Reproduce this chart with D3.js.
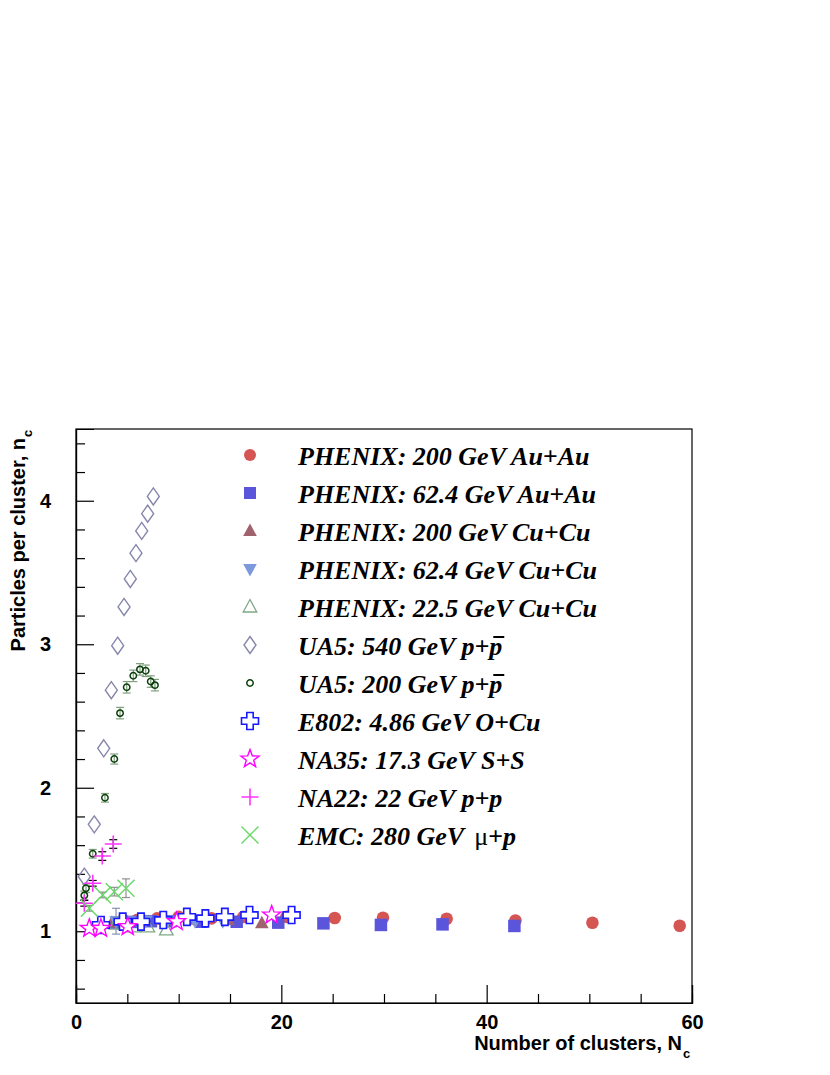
<!DOCTYPE html>
<html><head><meta charset="utf-8">
<script src="https://cdn.jsdelivr.net/npm/d3@7"></script>
<style>body{margin:0;background:#fff}</style>
</head><body>
<svg id="c" width="830" height="1075"></svg>
<script>
// ---------------- data ----------------
const xTicks = [0, 20, 40, 60];
const yTicks = [1, 2, 3, 4];
const xMinor = [5, 10, 15, 25, 30, 35, 45, 50, 55];
const yMinor = [0.6, 0.8, 1.2, 1.4, 1.6, 1.8, 2.2, 2.4, 2.6, 2.8, 3.2, 3.4, 3.6, 3.8, 4.2, 4.4];

const au200_x = [4.4, 6.0, 7.9, 10.0, 13.2, 16.3, 20.5, 25.2, 29.9, 36.1, 42.8, 50.3, 58.8];
const au200_y = [1.07, 1.08, 1.09, 1.10, 1.09, 1.10, 1.10, 1.092, 1.094, 1.087, 1.075, 1.059, 1.038];

const au62_x = [4.0, 5.4, 7.3, 9.2, 12.2, 15.65, 19.7, 24.1, 29.7, 35.7, 42.7];
const au62_y = [1.06, 1.065, 1.07, 1.07, 1.066, 1.066, 1.06, 1.055, 1.044, 1.048, 1.037];

const cu200_x = [3.5, 4.9, 6.6, 8.6, 11.2, 14.8, 18.1];
const cu200_y = [1.06, 1.07, 1.08, 1.08, 1.08, 1.078, 1.055];

const cu62_x = [3.9, 5.2, 6.8, 8.9, 11.6, 14.3];
const cu62_y = [1.07, 1.07, 1.075, 1.075, 1.07, 1.07];
const cu62_err = [0.09, 0, 0, 0, 0, 0];

const cu22_x = [3.9, 5.6, 7.0, 8.8];
const cu22_y = [1.05, 1.03, 1.03, 1.01];

const ua540_x = [0.81, 1.78, 2.70, 3.44, 4.06, 4.68, 5.29, 5.84, 6.40, 6.98, 7.53];
const ua540_y = [1.38, 1.745, 2.275, 2.68, 2.99, 3.26, 3.455, 3.635, 3.79, 3.91, 4.03];

const ua200_x = [0.81, 0.97, 1.63, 2.82, 3.73, 4.29, 4.94, 5.58, 6.23, 6.79, 7.28, 7.69];
const ua200_y = [1.25, 1.30, 1.54, 1.93, 2.20, 2.52, 2.70, 2.78, 2.825, 2.815, 2.74, 2.715];
const ua200_err = [0.03, 0.03, 0.03, 0.03, 0.035, 0.04, 0.04, 0.04, 0.04, 0.04, 0.04, 0.04];

const e802_x = [2.43, 4.55, 6.33, 8.5, 10.8, 12.6, 14.5, 16.9, 21.0];
const e802_y = [1.044, 1.067, 1.067, 1.078, 1.10, 1.09, 1.10, 1.113, 1.113];

const na35_x = [1.3, 2.43, 5.04, 9.8, 19.06];
const na35_y = [1.02, 1.02, 1.032, 1.067, 1.113];

const na22_x = [0.81, 1.63, 2.56, 3.63];
const na22_y = [1.195, 1.334, 1.524, 1.608];
const na22_err = [0.02, 0.02, 0.03, 0.03];

const emc_x = [1.3, 2.6, 3.73, 4.87];
const emc_y = [1.16, 1.253, 1.276, 1.30];
const emc_err = [0.02, 0.02, 0.03, 0.065];

const legendLabels = [
  "PHENIX: 200 GeV Au+Au",
  "PHENIX: 62.4 GeV Au+Au",
  "PHENIX: 200 GeV Cu+Cu",
  "PHENIX: 62.4 GeV Cu+Cu",
  "PHENIX: 22.5 GeV Cu+Cu",
  "UA5: 540 GeV p+p",
  "UA5: 200 GeV p+p",
  "E802: 4.86 GeV O+Cu",
  "NA35: 17.3 GeV S+S",
  "NA22: 22 GeV p+p",
  "EMC: 280 GeV "
];

// ---------------- setup ----------------
const svg = d3.select("#c");
const L = 76, R = 692, T = 429, B = 1003;
const x = d3.scaleLinear().domain([0, 60]).range([L, R]);
const y = d3.scaleLinear().domain([0.5, 4.5]).range([B, T]);

// marker paths
const mk = {
  circle: r => `M${r},0A${r},${r} 0 1,1 ${-r},0A${r},${r} 0 1,1 ${r},0Z`,
  square: s => `M${-s/2},${-s/2}H${s/2}V${s/2}H${-s/2}Z`,
  triUp: () => "M0,-7.5L6.8,5L-6.8,5Z",
  triDown: () => "M0,7.5L6.8,-5L-6.8,-5Z",
  diamond: () => "M0,-8.5L6,0L0,8.5L-6,0Z",
  cross: () => { const a = 3.2, l = 8.5; return `M${-a},${-l}H${a}V${-a}H${l}V${a}H${a}V${l}H${-a}V${a}H${-l}V${-a}H${-a}Z`; },
  star: () => { const Ro = 9.5, Ri = 3.9; let p = ""; for (let i = 0; i < 10; i++) { const r = i % 2 ? Ri : Ro; const a = -Math.PI/2 + i*Math.PI/5; p += (i ? "L" : "M") + (r*Math.cos(a)).toFixed(2) + "," + (r*Math.sin(a)).toFixed(2); } return p + "Z"; },
  plus: () => "M-8.5,0H8.5M0,-8.5V8.5",
  xmark: () => "M-8.5,-8.5L8.5,8.5M-8.5,8.5L8.5,-8.5"
};

const styles = [
  {d: mk.circle(6.3), fill: "#d55552", stroke: "none"},
  {d: mk.square(12.5), fill: "#5b55dc", stroke: "none"},
  {d: mk.triUp(), fill: "#a0626c", stroke: "none"},
  {d: mk.triDown(), fill: "#7e98dc", stroke: "none"},
  {d: mk.triUp(), fill: "none", stroke: "#80a888", sw: 1.3},
  {d: mk.diamond(), fill: "none", stroke: "#8686ac", sw: 1.4},
  {d: mk.circle(3.2), fill: "none", stroke: "#0a3f0a", sw: 1.5},
  {d: mk.cross(), fill: "#fff", stroke: "#1a1aff", sw: 1.6},
  {d: mk.star(), fill: "#fff", stroke: "#ff00ff", sw: 1.4},
  {d: mk.plus(), fill: "none", stroke: "#ff33ff", sw: 1.6},
  {d: mk.xmark(), fill: "none", stroke: "#66d866", sw: 1.4}
];

const series = [
  {xs: au200_x, ys: au200_y},
  {xs: au62_x, ys: au62_y},
  {xs: cu200_x, ys: cu200_y},
  {xs: cu62_x, ys: cu62_y, err: cu62_err, ec: "#8890b0"},
  {xs: cu22_x, ys: cu22_y},
  {xs: ua540_x, ys: ua540_y},
  {xs: ua200_x, ys: ua200_y, err: ua200_err, ec: "#7f9f7f"},
  {xs: e802_x, ys: e802_y},
  {xs: na35_x, ys: na35_y},
  {xs: na22_x, ys: na22_y, err: na22_err, ec: "#000"},
  {xs: emc_x, ys: emc_y, err: emc_err, ec: "#909090"}
];

// ---------------- frame & axes ----------------
svg.append("rect").attr("x", L).attr("y", T).attr("width", R - L).attr("height", B - T)
  .attr("fill", "none").attr("stroke", "#000").attr("stroke-width", 1.2);

const gx = svg.append("g").attr("transform", `translate(0,${B})`);
gx.call(d3.axisBottom(x).tickValues(xTicks).tickSize(-18).tickPadding(12).tickFormat(d3.format("d")));
const gxm = svg.append("g").attr("transform", `translate(0,${B})`);
gxm.call(d3.axisBottom(x).tickValues(xMinor).tickSize(-9).tickFormat(""));
const gy = svg.append("g").attr("transform", `translate(${L},0)`);
gy.call(d3.axisLeft(y).tickValues(yTicks).tickSize(-18).tickPadding(25).tickFormat(d3.format("d")));
const gym = svg.append("g").attr("transform", `translate(${L},0)`);
gym.call(d3.axisLeft(y).tickValues(yMinor).tickSize(-9).tickFormat(""));
[gx, gxm, gy, gym].forEach(g => {
  g.select(".domain").attr("stroke", "#000").attr("stroke-width", 1.2);
  g.selectAll(".tick line").attr("stroke", "#000").attr("stroke-width", 1.2);
  g.selectAll(".tick text").attr("font-family", "Liberation Sans, Arial, sans-serif")
    .attr("font-weight", "bold").attr("font-size", 20).attr("fill", "#000");
});

// axis titles
const tx = svg.append("text").attr("x", 682).attr("y", 1050).attr("text-anchor", "end")
  .attr("font-family", "Liberation Sans, Arial, sans-serif").attr("font-weight", "bold").attr("font-size", 20);
tx.append("tspan").text("Number of clusters, N");
svg.append("text").attr("font-family", "Liberation Sans, Arial, sans-serif").attr("font-weight", "bold")
  .attr("font-size", 13).attr("x", 683).attr("y", 1058).text("c");

svg.append("text").attr("transform", "translate(25,438) rotate(-90)").attr("text-anchor", "end")
  .attr("font-family", "Liberation Sans, Arial, sans-serif").attr("font-weight", "bold").attr("font-size", 20)
  .text("Particles per cluster, n");
svg.append("text").attr("transform", "translate(32,437) rotate(-90)")
  .attr("font-family", "Liberation Sans, Arial, sans-serif").attr("font-weight", "bold").attr("font-size", 13).text("c");

// ---------------- data points ----------------
const plot = svg.append("g");
series.forEach((s, i) => {
  const st = styles[i];
  const g = plot.append("g");
  const pts = s.xs.map((v, j) => ({x: v, y: s.ys[j], e: s.err ? s.err[j] : 0}));
  if (s.err) {
    const eg = g.append("g").attr("stroke", s.ec).attr("stroke-width", 1.2);
    pts.filter(p => p.e > 0).forEach(p => {
      const cx = x(p.x), y1 = y(p.y - p.e), y2 = y(p.y + p.e);
      eg.append("line").attr("x1", cx).attr("x2", cx).attr("y1", y1).attr("y2", y2);
      eg.append("line").attr("x1", cx - 4).attr("x2", cx + 4).attr("y1", y1).attr("y2", y1);
      eg.append("line").attr("x1", cx - 4).attr("x2", cx + 4).attr("y1", y2).attr("y2", y2);
    });
  }
  g.selectAll("path.m").data(pts).enter().append("path").attr("class", "m")
    .attr("d", st.d).attr("transform", p => `translate(${x(p.x)},${y(p.y)})`)
    .attr("fill", st.fill).attr("stroke", st.stroke).attr("stroke-width", st.sw || 1);
});

// ---------------- legend ----------------
const lg = svg.append("g");
legendLabels.forEach((lab, i) => {
  const yy = 455 + i * 38;
  const st = styles[i];
  let d = st.d;
  if (i === 0) d = mk.circle(6);
  if (i === 1) d = mk.square(12);
  lg.append("path").attr("d", d).attr("transform", `translate(250,${yy})`)
    .attr("fill", st.fill).attr("stroke", st.stroke).attr("stroke-width", st.sw || 1);
  const t = lg.append("text").attr("x", 298).attr("y", yy + 10)
    .attr("font-family", "Liberation Serif, Times New Roman, serif").attr("font-weight", "bold")
    .attr("font-style", "italic").attr("font-size", 26).attr("fill", "#000").text(lab);
  if (i === 10) {
    t.append("tspan").attr("font-style", "normal").attr("font-weight", "normal").attr("dx", 4).text("\u03bc");
    t.append("tspan").text("+p");
  }
  if (i === 5 || i === 6) {
    const n = lab.length;
    const ext = t.node().getExtentOfChar(n - 1);
    lg.append("line").attr("x1", ext.x + 4).attr("x2", ext.x + ext.width + 2)
      .attr("y1", yy - 8).attr("y2", yy - 8).attr("stroke", "#000").attr("stroke-width", 2);
  }
});
</script>
</body></html>
